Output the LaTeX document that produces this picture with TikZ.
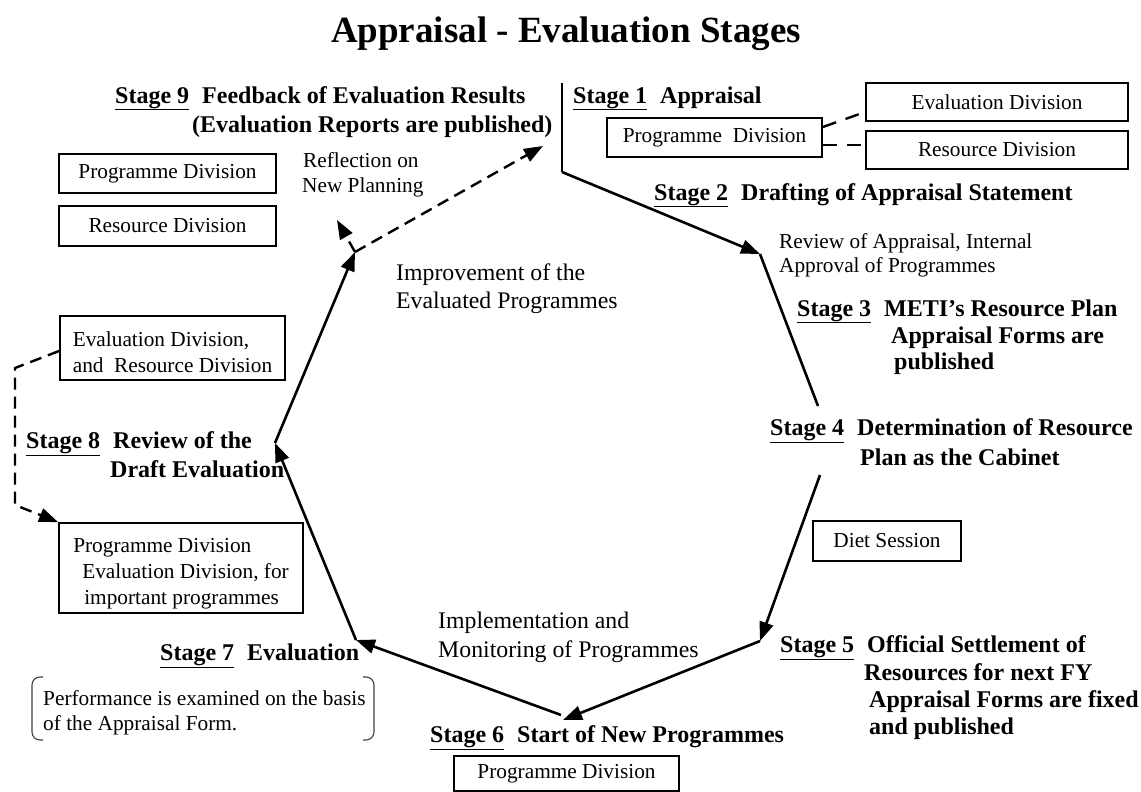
\documentclass[tikz,border=0pt]{standalone}
\usepackage{fontspec}
\setmainfont{Liberation Serif}
\usetikzlibrary{arrows.meta}
\newcommand\nfont{\fontsize{21.3}{26}\selectfont}
\newcommand\lfont{\fontsize{23.8}{28}\selectfont}
\newcommand\bfont{\fontsize{24}{28}\selectfont\bfseries}
\newcommand\tfont{\fontsize{37}{42}\selectfont\bfseries}
\newcommand\stg[1]{\underline{Stage #1}\hspace{13pt}}
\begin{document}
\begin{tikzpicture}[x=1pt,y=-1pt,
  txt/.style={inner sep=0pt, anchor=base west, font=\nfont},
  ltxt/.style={inner sep=0pt, anchor=base west, font=\lfont},
  btxt/.style={inner sep=0pt, anchor=base west, font=\bfont},
  divbox/.style={draw, line width=1.8pt, inner sep=0pt, font=\nfont},
  arr/.style={line width=2.6pt, -{Triangle[length=19pt,width=14pt]}},
  dsh/.style={line width=2.4pt, dash pattern=on 12pt off 7pt},
  sdsh/.style={line width=2.4pt, dash pattern=on 14pt off 10pt},
  darr/.style={dsh, -{Triangle[length=19pt,width=14pt]}},
  brk/.style={line width=1.1pt, black!75, rounded corners=8pt}]
\useasboundingbox (0,0) rectangle (1141,792);

% title
\node[font=\tfont, anchor=base, inner sep=0pt] (title) at (566,43) {Appraisal - Evaluation Stages};

% stage labels
\node[btxt] (s9a) at (115,103) {\stg{9}Feedback of Evaluation Results};
\node[btxt] (s9b) at (192,132) {(Evaluation Reports are published)};
\node[btxt] (s1) at (573,103) {\stg{1}Appraisal};
\node[btxt] (s2) at (654,200) {\stg{2}Drafting of Appraisal Statement};
\node[btxt] (s3a) at (797,316) {\stg{3}METI’s Resource Plan};
\node[btxt] (s3b) at (891,343) {Appraisal Forms are};
\node[btxt] (s3c) at (894,369) {published};
\node[btxt] (s4a) at (770,435) {\stg{4}Determination of Resource};
\node[btxt] (s4b) at (860,465) {Plan as the Cabinet};
\node[btxt] (s5a) at (780,652) {\stg{5}Official Settlement of};
\node[btxt] (s5b) at (864,680) {Resources for next FY};
\node[btxt] (s5c) at (869,707) {Appraisal Forms are fixed};
\node[btxt] (s5d) at (869,734) {and published};
\node[btxt] (s6) at (430,742) {\stg{6}Start of New Programmes};
\node[btxt] (s7) at (160,660) {\stg{7}Evaluation};
\node[btxt] (s8a) at (26,448) {\stg{8}Review of the};
\node[btxt] (s8b) at (110,477) {Draft Evaluation};

% plain texts
\node[txt] (rev1) at (779,248) {Review of Appraisal, Internal};
\node[txt] (rev2) at (779,272) {Approval of Programmes};
\node[ltxt] (imp1) at (396,280) {Improvement of the};
\node[ltxt] (imp2) at (396,308) {Evaluated Programmes};
\node[txt] (ref1) at (303,167) {Reflection on};
\node[txt] (ref2) at (302,192) {New Planning};
\node[ltxt] (impl1) at (438,628) {Implementation and};
\node[ltxt] (impl2) at (438,657) {Monitoring of Programmes};
\node[txt] (perf1) at (43,705) {Performance is examined on the basis};
\node[txt] (perf2) at (43,730) {of the Appraisal Form.};

% boxes
\node[divbox, minimum width=215pt, minimum height=39pt] (b1) at (714.5,137.5) {Programme\ \ Division};
\node[divbox, minimum width=262pt, minimum height=38pt] (b2) at (997,102) {Evaluation Division};
\node[divbox, minimum width=262pt, minimum height=38pt] (b3) at (997,150) {Resource Division};
\node[divbox, minimum width=217pt, minimum height=39pt] (b4) at (167.5,173.5) {Programme Division};
\node[divbox, minimum width=217pt, minimum height=40pt] (b5) at (167.5,226) {Resource Division};
\node[divbox, minimum width=225pt, minimum height=64pt, align=left] (b6) at (172.5,348)
  {\rule{0pt}{22.5pt}Evaluation Division,\\and\ \ Resource Division};
\node[divbox, minimum width=244pt, minimum height=90pt, align=left] (b7) at (181,568)
  {\rule{0pt}{26.5pt}Programme Division\\\hspace*{9pt}Evaluation Division, for\\\hspace*{11pt}important programmes};
\node[divbox, minimum width=148pt, minimum height=40pt] (b8) at (887,541) {Diet Session};
\node[divbox, minimum width=225pt, minimum height=35pt] (b9) at (566.5,773.5) {Programme Division};

% cycle points
\coordinate (t1) at (562,83);
\coordinate (c1) at (562,172);
\coordinate (c2) at (760,254);
\coordinate (c3) at (818,406);
\coordinate (c4) at (820,475);
\coordinate (c5) at (760,641);
\coordinate (c6) at (563,720);
\coordinate (c6b) at (561,715);
\coordinate (c7) at (356,640);
\coordinate (c8) at (275,443);
\coordinate (c9) at (355,252);
\coordinate (c10) at (543,146);
\coordinate (c11) at (337,220);
\coordinate (d1) at (15,368);
\coordinate (d2) at (15,505);

% cycle connectors
\draw[line width=2.8pt] (t1) -- (c1);
\draw[arr] (c1) -- (c2);
\draw[line width=2.6pt] (c2) -- (c3);
\draw[arr] (c4) -- (c5);
\draw[arr] (c5) -- (c6);
\draw[arr] (c6b) -- (c7);
\draw[arr] (c7) -- (c8);
\draw[arr] (c8) -- (c9);
\draw[darr] (c9) -- (c10);
\draw[darr] (c9) -- (c11);

% dashed links between boxes
\draw[sdsh] ([yshift=10.5pt]b1.east) -- ([yshift=-10pt]b2.west);
\draw[sdsh] ([yshift=-7.5pt]b1.east) -- ([yshift=5pt]b3.west);
\draw[darr] ([yshift=-3pt]b6.west) -- (d1) -- (d2) -- (b7.north west);

% bracket round the stage 7 note
\draw[brk] (43,677) -- (32,677) -- (32,740) -- (43,740);
\draw[brk] (363,677) -- (374,677) -- (374,740) -- (363,740);
\end{tikzpicture}
\end{document}
